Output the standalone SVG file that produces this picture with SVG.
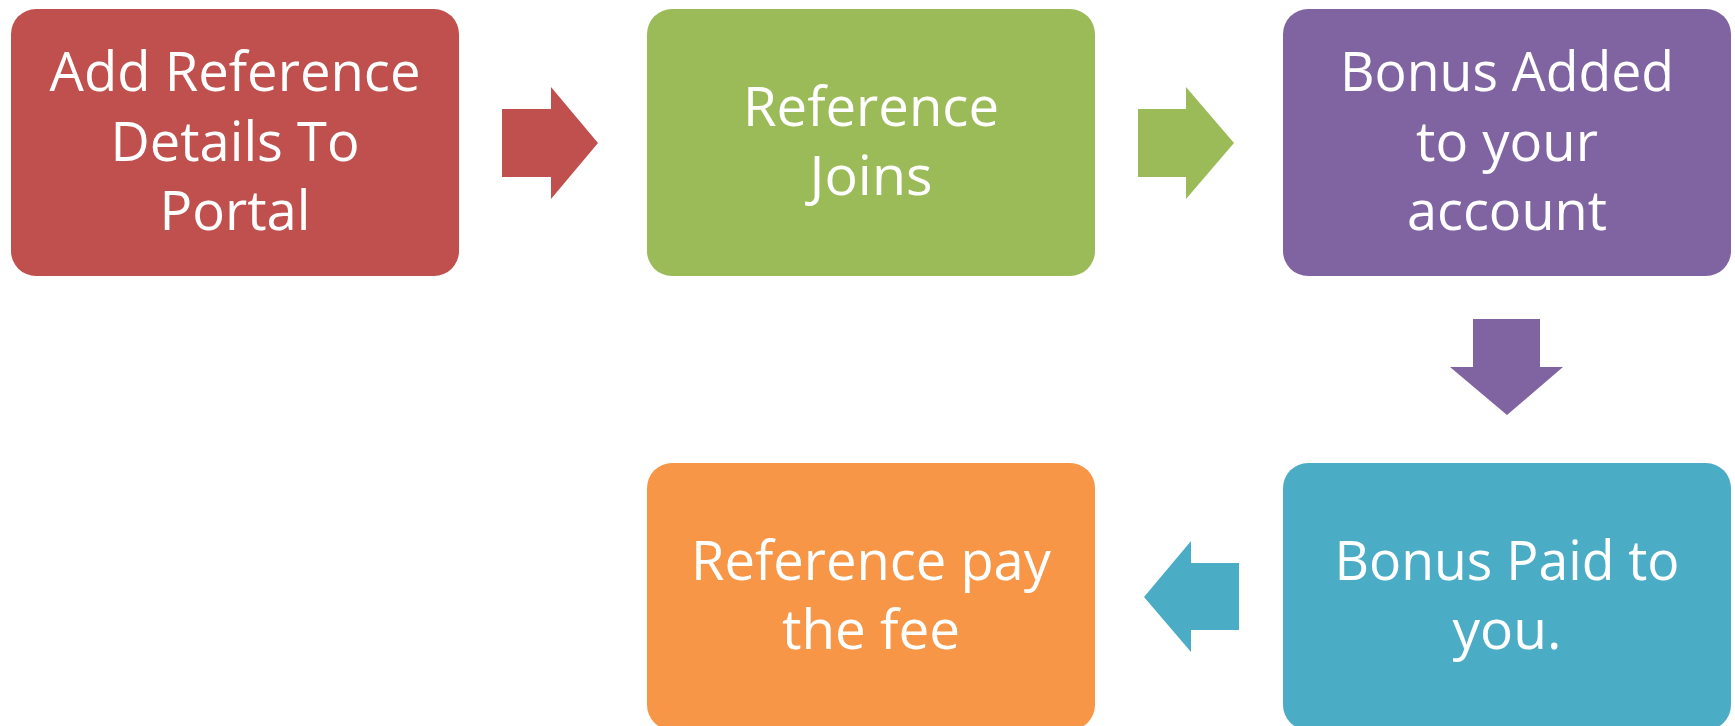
<svg xmlns="http://www.w3.org/2000/svg" width="1735" height="726" viewBox="0 0 1735 726">
<style>
.box{stroke:none}
.lbl{font-family:"Open Sans","Noto Sans","Liberation Sans",sans-serif;font-size:55px;fill:#FFFFFF;text-anchor:middle}
</style>
<rect x="0" y="0" width="1735" height="726" fill="#FFFFFF"/>
<g id="connectors">
<polygon fill="#C0504D" points="502,109 551,109 551,87 598,143 551,199 551,177 502,177"/>
<polygon fill="#9BBB59" points="1138,109 1186,109 1186,87 1234,143 1186,199 1186,177 1138,177"/>
<polygon fill="#8064A2" points="1473,319 1540,319 1540,367 1563,367 1507,415 1450,367 1473,367"/>
<polygon fill="#4BACC6" points="1239,563 1191,563 1191,541 1144,597 1191,652 1191,630 1239,630"/>
</g>
<g id="node-add-reference">
<rect class="box" x="11" y="9" width="448" height="267" rx="25" fill="#C0504D"/>
<text class="lbl" x="235" y="91" textLength="371" lengthAdjust="spacingAndGlyphs">Add Reference</text>
<text class="lbl" x="235" y="160.5" textLength="249" lengthAdjust="spacingAndGlyphs">Details To</text>
<text class="lbl" x="235" y="230" textLength="151" lengthAdjust="spacingAndGlyphs">Portal</text>
</g>
<g id="node-reference-joins">
<rect class="box" x="647" y="9" width="448" height="267" rx="25" fill="#9BBB59"/>
<text class="lbl" x="871" y="126" textLength="256" lengthAdjust="spacingAndGlyphs">Reference</text>
<text class="lbl" x="871" y="195" textLength="123" lengthAdjust="spacingAndGlyphs">Joins</text>
</g>
<g id="node-bonus-added">
<rect class="box" x="1283" y="9" width="448" height="267" rx="25" fill="#8064A2"/>
<text class="lbl" x="1507" y="91" textLength="334" lengthAdjust="spacingAndGlyphs">Bonus Added</text>
<text class="lbl" x="1507" y="160.5" textLength="182" lengthAdjust="spacingAndGlyphs">to your</text>
<text class="lbl" x="1507" y="230" textLength="200" lengthAdjust="spacingAndGlyphs">account</text>
</g>
<g id="node-bonus-paid">
<rect class="box" x="1283" y="463" width="448" height="267" rx="25" fill="#4BACC6"/>
<text class="lbl" x="1507" y="580" textLength="345" lengthAdjust="spacingAndGlyphs">Bonus Paid to</text>
<text class="lbl" x="1507" y="649" textLength="109" lengthAdjust="spacingAndGlyphs">you.</text>
</g>
<g id="node-reference-pay">
<rect class="box" x="647" y="463" width="448" height="267" rx="25" fill="#F79646"/>
<text class="lbl" x="871" y="580" textLength="360" lengthAdjust="spacingAndGlyphs">Reference pay</text>
<text class="lbl" x="871" y="649" textLength="178" lengthAdjust="spacingAndGlyphs">the fee</text>
</g>
</svg>
